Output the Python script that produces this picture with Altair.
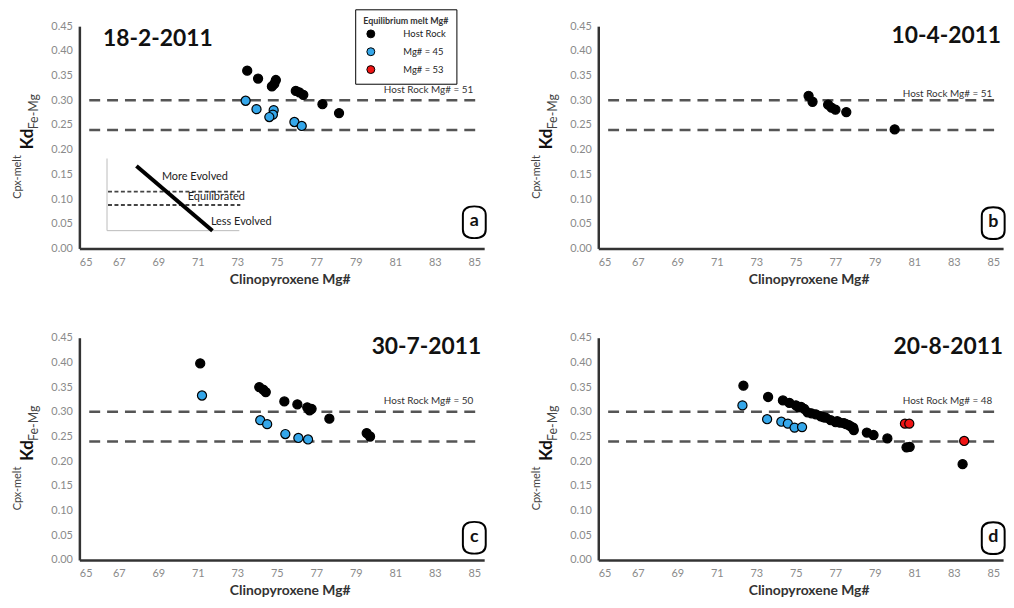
import altair as alt
import pandas as pd

FONT = "Lato"

# Legend groups and their fills
GROUPS = ["Host Rock", "Mg# = 45", "Mg# = 53"]
GROUP_FILLS = ["#000000", "#35a7ea", "#f01414"]

# Axis ticks
X_TICKS = [65, 67, 69, 71, 73, 75, 77, 79, 81, 83, 85]
Y_TICKS = [0.00, 0.05, 0.10, 0.15, 0.20, 0.25, 0.30, 0.35, 0.40, 0.45]

# Kd equilibrium range (dashed lines)
KD_LIMITS = [0.30, 0.24]
KD_LINE_START = 65.5
KD_LINE_END = 85.15

# (a) 18-2-2011
a_host_mg = [73.50, 74.05, 74.95, 74.87, 74.75, 75.96, 76.14, 76.34, 77.31, 78.15]
a_host_kd = [0.360, 0.344, 0.341, 0.333, 0.328, 0.319, 0.316, 0.311, 0.292, 0.274]
a_m45_mg = [73.42, 73.97, 74.84, 74.80, 74.62, 75.89, 76.26]
a_m45_kd = [0.299, 0.282, 0.280, 0.271, 0.266, 0.256, 0.248]

# (b) 10-4-2011
b_host_mg = [75.65, 75.85, 76.64, 76.81, 77.01, 77.56, 80.01]
b_host_kd = [0.309, 0.297, 0.291, 0.285, 0.281, 0.276, 0.241]

# (c) 30-7-2011
c_host_mg = [71.12, 74.11, 74.31, 74.44, 75.38, 76.04, 76.54, 76.66, 76.76, 77.66, 79.55, 79.72]
c_host_kd = [0.398, 0.350, 0.345, 0.340, 0.321, 0.315, 0.309, 0.303, 0.306, 0.286, 0.257, 0.250]
c_m45_mg = [71.21, 74.16, 74.51, 75.43, 76.09, 76.58]
c_m45_kd = [0.333, 0.283, 0.275, 0.255, 0.247, 0.244]

# (d) 20-8-2011
d_host_mg = [72.35, 73.60, 74.35, 74.68, 75.01, 75.15, 75.27, 75.43, 75.60, 75.80, 76.02,
             76.27, 76.40, 76.52, 76.77, 77.02, 77.10, 77.24, 77.44, 77.55, 77.69, 77.80,
             77.91, 77.94, 78.60, 78.94, 79.64, 80.61, 80.77, 83.45]
d_host_kd = [0.353, 0.330, 0.323, 0.318, 0.313, 0.309, 0.310, 0.306, 0.299, 0.297, 0.295,
             0.291, 0.289, 0.288, 0.283, 0.279, 0.281, 0.278, 0.277, 0.275, 0.273, 0.270,
             0.268, 0.263, 0.258, 0.253, 0.246, 0.228, 0.229, 0.194]
d_m45_mg = [72.30, 73.55, 74.27, 74.60, 74.94, 75.32]
d_m45_kd = [0.313, 0.285, 0.280, 0.276, 0.268, 0.269]
d_m53_mg = [80.53, 80.75, 83.53]
d_m53_kd = [0.276, 0.276, 0.241]

# Schematic inset in panel (a)
inset_frame_mg = [66.4, 66.4, 73.1]
inset_frame_kd = [0.182, 0.036, 0.036]
inset_dash_kd = [0.115, 0.088]
inset_dash_mg = [66.45, 73.15]
inset_slope_mg = [67.89, 71.74]
inset_slope_kd = [0.167, 0.036]
inset_labels = ["More Evolved", "Equilibrated", "Less Evolved"]
inset_label_mg = [69.18, 70.49, 71.66]
inset_label_kd = [0.145, 0.105, 0.053]

LETTER_SHAPE = ("M -0.72 -0.45 Q -0.72 -1 0 -1 Q 0.72 -1 0.72 -0.45 L 0.72 0.45 "
                "Q 0.72 1 0 1 Q -0.72 1 -0.72 0.45 Z")

W, H = 408, 224

x_scale = alt.Scale(domain=[65, 85.5], nice=False, zero=False)
y_scale = alt.Scale(domain=[0, 0.45], nice=False, zero=False)

x_axis = alt.Axis(values=X_TICKS, title="Clinopyroxene Mg#", grid=False, ticks=False,
                  domainColor="#333333", domainWidth=2.5, labelColor="#8a8a8a",
                  labelFontSize=11, labelPadding=8, labelFont=FONT, titleFont=FONT,
                  titleFontSize=14, titleFontWeight="bold", titleColor="#333333",
                  titlePadding=5, titleX=212)
y_axis = alt.Axis(values=Y_TICKS, format=".2f", title=None, grid=False, ticks=False,
                  domainColor="#333333", domainWidth=2.5, labelColor="#8a8a8a",
                  labelFontSize=11, labelPadding=7, labelFont=FONT)


def points_frame(groups):
    rows = []
    for name, mg, kd in groups:
        for m, k in zip(mg, kd):
            rows.append({"mg": m, "kd": k, "group": name})
    return pd.DataFrame(rows)


def text_layer(df, **mark):
    return alt.Chart(df).mark_text(font=FONT, **mark).encode(
        x=alt.X("mg:Q", scale=x_scale, axis=x_axis),
        y=alt.Y("kd:Q", scale=y_scale, axis=y_axis),
        text="t:N",
    )


def panel(groups, date, date_mg, date_kd, date_align, host_label, host_kd, letter,
          letter_kd, legend=None, extras=()):
    pts = points_frame(groups)
    scatter = alt.Chart(pts).mark_circle(size=84, stroke="black", strokeWidth=1.2,
                                          opacity=1).encode(
        x=alt.X("mg:Q", scale=x_scale, axis=x_axis),
        y=alt.Y("kd:Q", scale=y_scale, axis=y_axis),
        fill=alt.Fill("group:N", scale=alt.Scale(domain=GROUPS, range=GROUP_FILLS),
                      legend=legend),
    )
    kd_lines = alt.Chart(pd.DataFrame({"kd": KD_LIMITS, "m0": KD_LINE_START,
                                       "m1": KD_LINE_END})).mark_rule(
        strokeDash=[11, 7], strokeWidth=2.5, color="#555555").encode(
        x=alt.X("m0:Q", scale=x_scale, axis=x_axis), x2="m1:Q",
        y=alt.Y("kd:Q", scale=y_scale, axis=y_axis),
    )
    host = text_layer(pd.DataFrame({"mg": [84.95], "kd": [host_kd], "t": [host_label]}),
                      align="right", baseline="middle", fontSize=10, color="#333333")
    title = text_layer(pd.DataFrame({"mg": [date_mg], "kd": [date_kd], "t": [date]}),
                       align=date_align, baseline="middle", fontSize=23,
                       fontWeight="bold", color="#111111")
    letter_df = pd.DataFrame({"mg": [85.0], "kd": [letter_kd], "t": [letter]})
    badge = alt.Chart(letter_df).mark_point(shape=LETTER_SHAPE, size=1024, filled=True,
                                            fill="white", stroke="black", strokeWidth=2,
                                            opacity=1).encode(
        x=alt.X("mg:Q", scale=x_scale, axis=x_axis),
        y=alt.Y("kd:Q", scale=y_scale, axis=y_axis),
    )
    badge_text = text_layer(letter_df, align="center", baseline="middle", fontSize=18,
                            fontWeight="bold", color="#111111", dy=-1)
    # y-axis title: Cpx-melt (superscript) Kd (large) Fe-Mg (subscript)
    ytitle = [
        alt.Chart(pd.DataFrame({"t": ["Cpx-melt"]})).mark_text(
            font=FONT, angle=270, align="left", baseline="middle", fontSize=11,
            color="#444444").encode(x=alt.value(-61.5), y=alt.value(174), text="t:N"),
        alt.Chart(pd.DataFrame({"t": ["Kd"]})).mark_text(
            font=FONT, angle=270, align="left", baseline="middle", fontSize=17,
            fontWeight="bold", color="#111111").encode(x=alt.value(-52), y=alt.value(124),
                                                        text="t:N"),
        alt.Chart(pd.DataFrame({"t": ["Fe-Mg"]})).mark_text(
            font=FONT, angle=270, align="left", baseline="middle", fontSize=12.5,
            color="#444444").encode(x=alt.value(-45.5), y=alt.value(104), text="t:N"),
    ]
    layers = [kd_lines, *extras, scatter, host, title, badge, badge_text, *ytitle]
    return alt.layer(*layers).properties(width=W, height=H)


# Inset layers for panel (a)
inset_frame = alt.Chart(pd.DataFrame({"mg": inset_frame_mg, "kd": inset_frame_kd,
                                      "o": [0, 1, 2]})).mark_line(
    color="#bbbbbb", strokeWidth=1).encode(
    x=alt.X("mg:Q", scale=x_scale, axis=x_axis),
    y=alt.Y("kd:Q", scale=y_scale, axis=y_axis), order="o:Q")
inset_dash = alt.Chart(pd.DataFrame({"kd": inset_dash_kd, "m0": inset_dash_mg[0],
                                     "m1": inset_dash_mg[1]})).mark_rule(
    strokeDash=[4, 2.5], strokeWidth=2, color="#444444").encode(
    x=alt.X("m0:Q", scale=x_scale, axis=x_axis), x2="m1:Q",
    y=alt.Y("kd:Q", scale=y_scale, axis=y_axis))
inset_slope = alt.Chart(pd.DataFrame({"m0": [inset_slope_mg[0]], "m1": [inset_slope_mg[1]],
                                      "k0": [inset_slope_kd[0]],
                                      "k1": [inset_slope_kd[1]]})).mark_rule(
    strokeWidth=4, color="black").encode(
    x=alt.X("m0:Q", scale=x_scale, axis=x_axis), x2="m1:Q",
    y=alt.Y("k0:Q", scale=y_scale, axis=y_axis), y2="k1:Q")
inset_text = text_layer(pd.DataFrame({"mg": inset_label_mg, "kd": inset_label_kd,
                                      "t": inset_labels}),
                        align="left", baseline="middle", fontSize=11, color="#222222")

legend_a = alt.Legend(title="Equilibrium melt Mg#", orient="none", legendX=278,
                      legendY=-17, strokeColor="black", fillColor="white", padding=8,
                      titleFont=FONT, titleFontSize=9, titleFontWeight="bold",
                      titleColor="#333333", titleAnchor="middle", titlePadding=3,
                      labelFont=FONT, labelFontSize=9.5, labelColor="#222222",
                      labelOffset=28, symbolSize=64, symbolType="circle",
                      symbolStrokeColor="black", symbolStrokeWidth=1, rowPadding=5)

panel_a = panel([("Host Rock", a_host_mg, a_host_kd), ("Mg# = 45", a_m45_mg, a_m45_kd)],
                "18-2-2011", 66.2, 0.424, "left", "Host Rock Mg# = 51", 0.320, "a", 0.053,
                legend=legend_a,
                extras=(inset_frame, inset_dash, inset_slope, inset_text))
panel_b = panel([("Host Rock", b_host_mg, b_host_kd)],
                "10-4-2011", 85.4, 0.430, "right", "Host Rock Mg# = 51", 0.313, "b", 0.051)
panel_c = panel([("Host Rock", c_host_mg, c_host_kd), ("Mg# = 45", c_m45_mg, c_m45_kd)],
                "30-7-2011", 85.35, 0.432, "right", "Host Rock Mg# = 50", 0.321, "c", 0.045)
panel_d = panel([("Host Rock", d_host_mg, d_host_kd), ("Mg# = 45", d_m45_mg, d_m45_kd),
                 ("Mg# = 53", d_m53_mg, d_m53_kd)],
                "20-8-2011", 85.5, 0.432, "right", "Host Rock Mg# = 48", 0.321, "d", 0.044)

chart = alt.concat(panel_a, panel_b, panel_c, panel_d, columns=2,
                   spacing={"row": 90, "column": 115}, bounds="flush").resolve_scale(
    fill="independent").resolve_legend(fill="independent").properties(
    padding={"left": 12, "top": 6, "right": 5, "bottom": 5},
    background="white",
).configure_view(stroke=None)

chart.save("out.html", embed_options={"renderer": "svg", "actions": False})
